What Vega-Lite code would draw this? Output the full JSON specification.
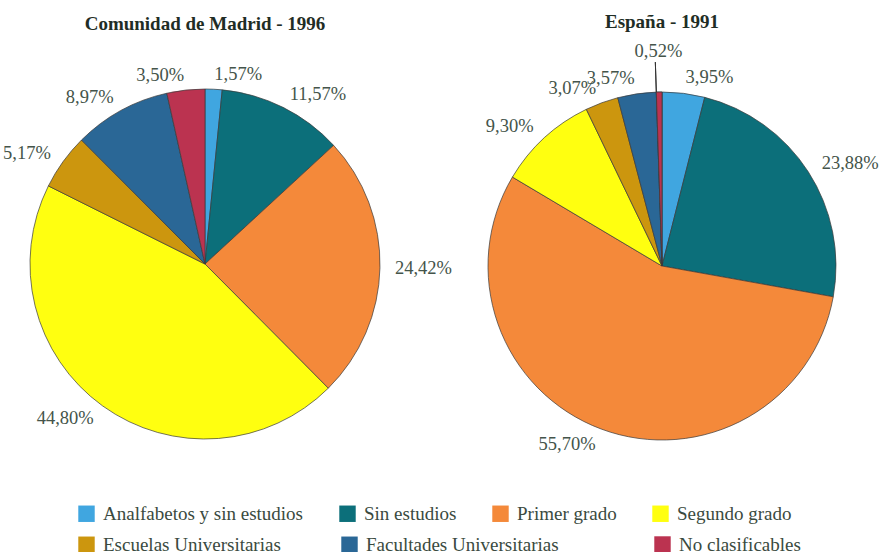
{
  "$schema": "https://vega.github.io/schema/vega-lite/v6.json",
  "padding": {"left": 0, "top": 13, "right": 0, "bottom": 0},
  "background": "white",
  "bounds": "flush",
  "config": {
    "font": "Liberation Serif",
    "view": {"stroke": null},
    "concat": {"spacing": 47},
    "title": {"font": "Liberation Serif", "fontSize": 19, "fontWeight": "bold", "color": "#1f2d25", "anchor": "middle", "offset": 10},
    "legend": {
      "orient": "none", "title": null, "direction": "horizontal", "symbolType": "square", "symbolSize": 270,
      "symbolStrokeWidth": 0, "labelFontSize": 19, "labelColor": "#3a4a40", "labelFont": "Liberation Serif",
      "columnPadding": 34, "labelLimit": 400, "labelOffset": 7
    }
  },
  "data": {
    "values": [
      {"region": "Madrid", "orden": 1, "nivel": "Analfabetos y sin estudios", "pct": 1.57, "etiqueta": "1,57%"},
      {"region": "Madrid", "orden": 2, "nivel": "Sin estudios", "pct": 11.57, "etiqueta": "11,57%"},
      {"region": "Madrid", "orden": 3, "nivel": "Primer grado", "pct": 24.42, "etiqueta": "24,42%"},
      {"region": "Madrid", "orden": 4, "nivel": "Segundo grado", "pct": 44.80, "etiqueta": "44,80%"},
      {"region": "Madrid", "orden": 5, "nivel": "Escuelas Universitarias", "pct": 5.17, "etiqueta": "5,17%"},
      {"region": "Madrid", "orden": 6, "nivel": "Facultades Universitarias", "pct": 8.97, "etiqueta": "8,97%"},
      {"region": "Madrid", "orden": 7, "nivel": "No clasificables", "pct": 3.50, "etiqueta": "3,50%"},
      {"region": "España", "orden": 1, "nivel": "Analfabetos y sin estudios", "pct": 3.95, "etiqueta": "3,95%"},
      {"region": "España", "orden": 2, "nivel": "Sin estudios", "pct": 23.88, "etiqueta": "23,88%"},
      {"region": "España", "orden": 3, "nivel": "Primer grado", "pct": 55.70, "etiqueta": "55,70%"},
      {"region": "España", "orden": 4, "nivel": "Segundo grado", "pct": 9.30, "etiqueta": "9,30%"},
      {"region": "España", "orden": 5, "nivel": "Escuelas Universitarias", "pct": 3.07, "etiqueta": "3,07%"},
      {"region": "España", "orden": 6, "nivel": "Facultades Universitarias", "pct": 3.57, "etiqueta": "3,57%"},
      {"region": "España", "orden": 7, "nivel": "No clasificables", "pct": 0.52, "etiqueta": "0,52%"}
    ]
  },
  "hconcat": [
    {
      "title": "Comunidad de Madrid - 1996",
      "width": 410,
      "height": 440,
      "transform": [{"filter": "datum.region === 'Madrid'"}],
      "layer": [
        {
          "mark": {"type": "arc", "outerRadius": 175, "stroke": "#3a3a3a", "strokeWidth": 0.7},
          "encoding": {
            "theta": {"field": "pct", "type": "quantitative", "stack": true},
            "order": {"field": "orden", "type": "quantitative"},
            "color": {
              "field": "nivel", "type": "nominal",
              "scale": {
                "domain": ["Analfabetos y sin estudios", "Sin estudios", "Primer grado", "Segundo grado", "Escuelas Universitarias", "Facultades Universitarias", "No clasificables"],
                "range": ["#40a6e0", "#0c6f7a", "#f4893a", "#ffff10", "#cc960e", "#2a6796", "#bb3350"]
              },
              "legend": {
                "legendX": 77, "legendY": 460,
                "values": ["Analfabetos y sin estudios", "Sin estudios", "Primer grado", "Segundo grado"]
              }
            }
          }
        },
        {
          "mark": {"type": "text", "radius": 190, "align": "left", "fontSize": 18.5, "color": "#44544a", "font": "Liberation Serif"},
          "encoding": {
            "theta": {"field": "pct", "type": "quantitative", "stack": true},
            "order": {"field": "orden", "type": "quantitative"},
            "text": {"condition": {"test": "datum.orden <= 3", "field": "etiqueta"}, "value": ""}
          }
        },
        {
          "mark": {"type": "text", "radius": 190, "align": "right", "fontSize": 18.5, "color": "#44544a", "font": "Liberation Serif"},
          "encoding": {
            "theta": {"field": "pct", "type": "quantitative", "stack": true},
            "order": {"field": "orden", "type": "quantitative"},
            "text": {"condition": {"test": "datum.orden >= 4", "field": "etiqueta"}, "value": ""}
          }
        }
      ]
    },
    {
      "title": "España - 1991",
      "width": 410,
      "height": 444,
      "transform": [
        {"filter": "datum.region === 'España'"},
        {"stack": "pct", "groupby": [], "sort": [{"field": "orden"}], "as": ["ini", "fin"]}
      ],
      "layer": [
        {
          "mark": {"type": "arc", "outerRadius": 174, "stroke": "#3a3a3a", "strokeWidth": 0.7},
          "encoding": {
            "theta": {"field": "ini", "type": "quantitative"},
            "theta2": {"field": "fin"},
            "fill": {
              "field": "nivel", "type": "nominal",
              "scale": {
                "domain": ["Analfabetos y sin estudios", "Sin estudios", "Primer grado", "Segundo grado", "Escuelas Universitarias", "Facultades Universitarias", "No clasificables"],
                "range": ["#40a6e0", "#0c6f7a", "#f4893a", "#ffff10", "#cc960e", "#2a6796", "#bb3350"]
              },
              "legend": {
                "legendX": -380, "legendY": 491, "columnPadding": 59,
                "values": ["Escuelas Universitarias", "Facultades Universitarias"]
              }
            }
          }
        },
        {
          "transform": [{"filter": "datum.orden == 7"}],
          "mark": {"type": "arc", "outerRadius": 174, "fill": "#bb3350", "strokeWidth": 0.7},
          "encoding": {
            "theta": {"field": "ini", "type": "quantitative"},
            "theta2": {"field": "fin"},
            "stroke": {
              "field": "nivel", "type": "nominal",
              "scale": {"domain": ["No clasificables"], "range": ["#3a3a3a"]},
              "legend": {"legendX": 196, "legendY": 491}
            }
          }
        },
        {
          "transform": [{"filter": "datum.orden == 7"}],
          "mark": {"type": "arc", "innerRadius": 174, "outerRadius": 204, "stroke": "#333333", "strokeWidth": 1, "fill": null},
          "encoding": {
            "theta": {"field": "ini", "type": "quantitative"},
            "theta2": {"field": "ini"}
          }
        },
        {
          "mark": {"type": "text", "radius": 190, "align": "left", "fontSize": 18.5, "color": "#44544a", "font": "Liberation Serif"},
          "encoding": {
            "theta": {"field": "pct", "type": "quantitative", "stack": true},
            "order": {"field": "orden", "type": "quantitative"},
            "text": {"condition": {"test": "datum.orden <= 2", "field": "etiqueta"}, "value": ""}
          }
        },
        {
          "mark": {"type": "text", "radius": 190, "align": "right", "fontSize": 18.5, "color": "#44544a", "font": "Liberation Serif"},
          "encoding": {
            "theta": {"field": "pct", "type": "quantitative", "stack": true},
            "order": {"field": "orden", "type": "quantitative"},
            "text": {"condition": {"test": "datum.orden >= 3 && datum.orden <= 6", "field": "etiqueta"}, "value": ""}
          }
        },
        {
          "mark": {"type": "text", "radius": 215, "align": "center", "fontSize": 18.5, "color": "#44544a", "font": "Liberation Serif"},
          "encoding": {
            "theta": {"field": "pct", "type": "quantitative", "stack": true},
            "order": {"field": "orden", "type": "quantitative"},
            "text": {"condition": {"test": "datum.orden == 7", "field": "etiqueta"}, "value": ""}
          }
        }
      ]
    }
  ],
  "resolve": {"scale": {"color": "independent", "fill": "independent", "stroke": "independent", "theta": "independent"}}
}
